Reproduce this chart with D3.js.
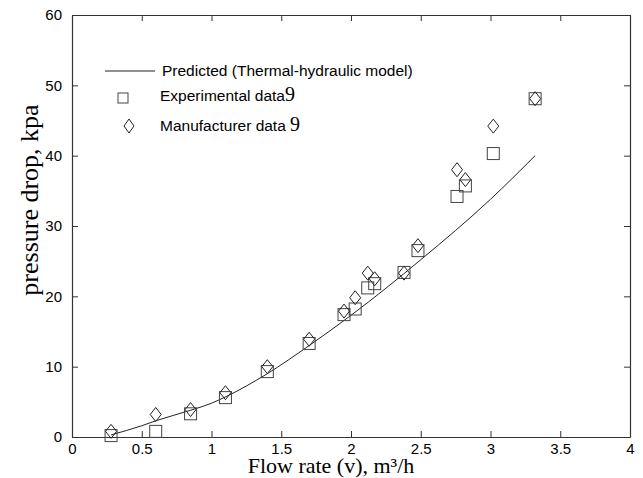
<!DOCTYPE html>
<html>
<head>
<meta charset="utf-8">
<script src="https://cdn.jsdelivr.net/npm/d3@7"></script>
<style>
  body { margin: 0; background: #fff; }
  svg { display: block; }
  .tick text { font-family: "Liberation Sans", Arial, sans-serif; font-size: 15px; fill: #000; }
  .tick line, .domain { stroke: #333; }
</style>
</head>
<body>
<div id="chart"></div>
<script>
// flow rate (m3/h) shared by both measured series
var flow = [0.28, 0.6, 0.85, 1.1, 1.4, 1.7, 1.95, 2.03, 2.12, 2.17, 2.38, 2.48, 2.76, 2.82, 3.02, 3.32];
var experimental = [0.2, 0.8, 3.3, 5.6, 9.3, 13.3, 17.4, 18.2, 21.2, 21.8, 23.4, 26.5, 34.2, 35.7, 40.3, 48.1];
var manufacturer = [0.8, 3.2, 3.9, 6.3, 10.0, 13.9, 17.9, 19.8, 23.3, 22.5, 23.3, 27.2, 38.0, 36.6, 44.2, 48.1];

// predicted curve
var modelFlow = [0.28, 0.5, 0.6, 0.85, 1.0, 1.1, 1.4, 1.7, 2.0, 2.5, 3.0, 3.32];
var modelDrop = [0.3, 1.6, 2.3, 3.8, 4.8, 5.7, 9.0, 13.0, 17.3, 25.2, 33.8, 40.0];

var xTicks = [0, 0.5, 1, 1.5, 2, 2.5, 3, 3.5, 4];
var yTicks = [0, 10, 20, 30, 40, 50, 60];

var W = 643, H = 478;
var margin = { top: 15, right: 13, bottom: 41, left: 72 }
    , width = W - margin.left - margin.right
    , height = H - margin.top - margin.bottom;

var svg = d3.select("#chart").append("svg")
    .attr("width", W)
    .attr("height", H);

var g = svg.append("g")
    .attr("transform", "translate(" + margin.left + "," + margin.top + ")");

var x = d3.scaleLinear().domain([0, 4]).range([0, width]);
var y = d3.scaleLinear().domain([0, 60]).range([height, 0]);

// axes, ticks pointing inward
g.append("g")
    .attr("transform", "translate(0," + height + ")")
    .call(d3.axisBottom(x).tickValues(xTicks).tickFormat(function(d) { return d; })
        .tickSizeInner(-6).tickSizeOuter(0).tickPadding(6));
g.append("g")
    .call(d3.axisLeft(y).tickValues(yTicks).tickFormat(function(d) { return d; })
        .tickSizeInner(-6).tickSizeOuter(0).tickPadding(10));
g.append("g")
    .call(d3.axisTop(x).tickValues(xTicks).tickFormat("").tickSizeInner(-6).tickSizeOuter(0));
g.append("g")
    .attr("transform", "translate(" + width + ",0)")
    .call(d3.axisRight(y).tickValues(yTicks).tickFormat("").tickSizeInner(-6).tickSizeOuter(0));

g.selectAll(".domain").attr("stroke-width", 1.2);

// predicted line
var model = modelFlow.map(function(f, i) { return [f, modelDrop[i]]; });
g.append("path")
    .datum(model)
    .attr("fill", "none")
    .attr("stroke", "#222")
    .attr("stroke-width", 1)
    .attr("d", d3.line()
        .x(function(d) { return x(d[0]); })
        .y(function(d) { return y(d[1]); })
        .curve(d3.curveMonotoneX));

// experimental squares
var sq = 12;
g.selectAll(".exp")
    .data(flow.map(function(f, i) { return [f, experimental[i]]; }))
    .enter().append("rect")
    .attr("class", "exp")
    .attr("x", function(d) { return x(d[0]) - sq / 2; })
    .attr("y", function(d) { return y(d[1]) - sq / 2; })
    .attr("width", sq)
    .attr("height", sq)
    .attr("fill", "none")
    .attr("stroke", "#444")
    .attr("stroke-width", 1);

// manufacturer diamonds
var diamond = "M0,-7L5.5,0L0,7L-5.5,0Z";
g.selectAll(".man")
    .data(flow.map(function(f, i) { return [f, manufacturer[i]]; }))
    .enter().append("path")
    .attr("class", "man")
    .attr("d", diamond)
    .attr("transform", function(d) { return "translate(" + x(d[0]) + "," + y(d[1]) + ")"; })
    .attr("fill", "none")
    .attr("stroke", "#222")
    .attr("stroke-width", 1);

// legend
var sans = "'Liberation Sans', Arial, sans-serif";
var serif = "'Liberation Serif', 'Times New Roman', serif";
var leg = svg.append("g");
leg.append("line")
    .attr("x1", 105).attr("x2", 155).attr("y1", 71).attr("y2", 71)
    .attr("stroke", "#222").attr("stroke-width", 1);
leg.append("text")
    .attr("x", 162).attr("y", 76)
    .style("font-family", sans).style("font-size", "15.5px")
    .text("Predicted (Thermal-hydraulic model)");

leg.append("rect")
    .attr("x", 118).attr("y", 93).attr("width", 10).attr("height", 10)
    .attr("fill", "none").attr("stroke", "#444");
var t1 = leg.append("text")
    .attr("x", 160).attr("y", 101)
    .style("font-family", sans).style("font-size", "15.5px");
t1.append("tspan").text("Experimental  data");
t1.append("tspan").style("font-family", serif).style("font-size", "20px").text("9");

leg.append("path")
    .attr("d", "M0,-7L5,0L0,7L-5,0Z")
    .attr("transform", "translate(129,126)")
    .attr("fill", "none").attr("stroke", "#222");
var t2 = leg.append("text")
    .attr("x", 160).attr("y", 131)
    .style("font-family", sans).style("font-size", "15.5px");
t2.append("tspan").text("Manufacturer data ");
t2.append("tspan").style("font-family", serif).style("font-size", "20px").text("9");

// axis titles
svg.append("text")
    .attr("x", 331).attr("y", 473)
    .attr("text-anchor", "middle")
    .style("font-family", serif).style("font-size", "22px")
    .text("Flow rate (v), m\u00b3/h");

svg.append("text")
    .attr("transform", "translate(38,200) rotate(-90)")
    .attr("text-anchor", "middle")
    .style("font-family", serif).style("font-size", "26px")
    .text("pressure drop, kpa");
</script>
</body>
</html>
